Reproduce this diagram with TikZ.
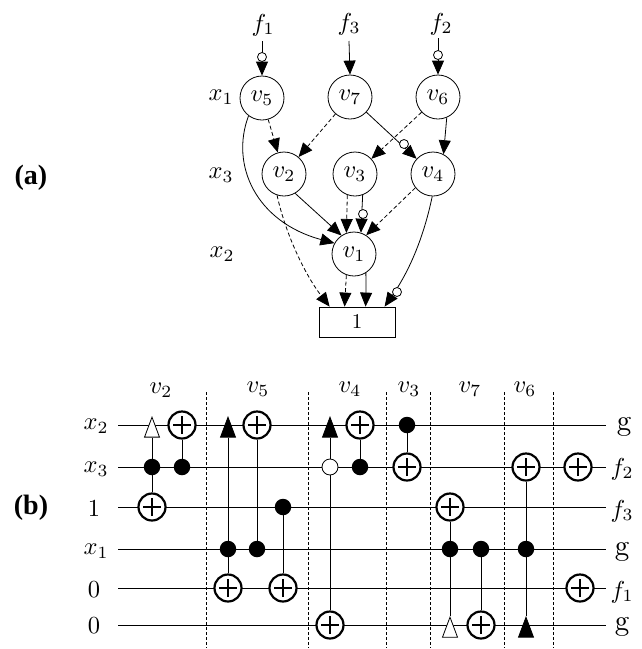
\documentclass[tikz,border=0pt]{standalone}
\usepackage{fontspec}
\usepackage{graphicx}
\newfontfamily\labfont[BoldFont={Liberation Serif Bold}]{Liberation Serif}
\newcommand{\BT}[1]{\scalebox{2.45}{#1}}
\newcommand{\BG}[1]{\scalebox{2.9}{#1}}
\usetikzlibrary{arrows.meta,shapes.geometric,backgrounds,calc}
\tikzset{
  lab/.style={inner sep=0pt},
  bddnode/.style={circle,draw,line width=0.8pt,minimum size=44pt,inner sep=0pt},
  termbox/.style={rectangle,draw,line width=0.8pt,minimum width=76pt,minimum height=30pt,inner sep=0pt},
  inv/.style={circle,draw,fill=white,line width=0.8pt,minimum size=9pt,inner sep=0pt},
  edgesolid/.style={line width=0.8pt,-{Triangle[length=14pt,width=12pt]}},
  edgedash/.style={line width=0.8pt,dash pattern=on 4pt off 2.5pt,-{Triangle[length=14pt,width=12pt]}},
  wire/.style={line width=0.9pt},
  sep/.style={line width=0.7pt,dash pattern=on 3pt off 2pt},
  ctl/.style={line width=0.9pt},
  dotgate/.style={circle,fill=black,minimum size=16.5pt,inner sep=0pt},
  whitedot/.style={circle,draw,fill=white,line width=0.8pt,minimum size=16pt,inner sep=0pt},
  plusgate/.style={circle,draw,fill=white,line width=2.2pt,minimum size=27pt,inner sep=0pt,
    path picture={\draw[line width=2.2pt]
      ([xshift=-9pt]path picture bounding box.center)--([xshift=9pt]path picture bounding box.center)
      ([yshift=-9pt]path picture bounding box.center)--([yshift=9pt]path picture bounding box.center);}},
  tribase/.style={isosceles triangle,isosceles triangle apex angle=41,minimum height=20pt,inner sep=0pt,
    shape border rotate=90,anchor=apex,draw,line width=0.8pt},
  tribk/.style={tribase,fill=black},
  triwh/.style={tribase,fill=white},
  panel/.style={inner sep=0pt,font=\labfont\bfseries\fontsize{28}{32}\selectfont},
}
\begin{document}
\begin{tikzpicture}[x=1pt,y=-1pt]
\useasboundingbox (0,0) rectangle (641,649);
% ---------- panel labels
\node[panel] (pa) at (31,178) {(a)};
\node[panel] (pb) at (31,508) {(b)};
% ---------- part (a)
\node[lab] (f1) at (263,25) {\BT{$f_1$}};
\node[lab] (f3) at (349,24) {\BT{$f_3$}};
\node[lab] (f2) at (441,24) {\BT{$f_2$}};
\node[lab] (lx1) at (221,97) {\BT{$x_1$}};
\node[lab] (lx3) at (221,175) {\BT{$x_3$}};
\node[lab] (lx2) at (222,254) {\BT{$x_2$}};
\node[bddnode] (v5) at (262,98) {\BT{$v_5$}};
\node[bddnode] (v7) at (350,97) {\BT{$v_7$}};
\node[bddnode] (v6) at (438,97) {\BT{$v_6$}};
\node[bddnode] (v2) at (284,174) {\BT{$v_2$}};
\node[bddnode] (v3) at (355,174) {\BT{$v_3$}};
\node[bddnode] (v4) at (433,174) {\BT{$v_4$}};
\node[bddnode] (v1) at (354,254) {\BT{$v_1$}};
\node[termbox] (box) at (357,322) {\scalebox{2.1}{1}};
\coordinate (f1e) at (262,41);
\coordinate (f3e) at (349,41);
\coordinate (f2e) at (438,38);
\draw[edgesolid] (f1e) -- (v5.north);
\draw[edgesolid] (f3e) -- (v7.north);
\draw[edgesolid] (f2e) -- (v6.north);
\draw[edgedash] (v5) -- (v2);
\draw[edgedash] (v7) -- (v2);
\draw[edgesolid] (v7) -- (v4);
\draw[edgedash] (v6) -- (v3);
\draw[edgesolid] (v6.-67) -- (v4.62);
\draw[edgesolid] (v2.-60) -- (v1.124);
\draw[edgedash] (v3.-110) -- (v1.110);
\draw[edgesolid] (v3.-70) -- (v1.72);
\draw[edgedash] (v4.-142) -- (v1.57);
\draw[edgesolid] (v5.-127) .. controls (230,165) and (256,222) .. (v1.151);
\draw[edgedash] (v2.-108) .. controls (286,236) and (306,276) .. ([xshift=11pt]box.north west);
\draw[edgedash] (v1.-110) -- ([xshift=26pt]box.north west);
\draw[edgesolid] (v1.-58) .. controls (366,285) and (366,296) .. ([xshift=47pt]box.north west);
\draw[edgesolid] (v4.-92) .. controls (424,236) and (410,270) .. ([xshift=66pt]box.north west);
\node[inv] (i1) at (262,57) {};
\node[inv] (i2) at (438,55) {};
\node[inv] (i3) at (404,144) {};
\node[inv] (i4) at (363,214) {};
\node[inv] (i5) at (397,292) {};
% ---------- part (b): labels
\foreach \n/\x/\y/\t in {h2/161/390/v_2,h5/258/389/v_5,h4/350/389/v_4,h3/409/389/v_3,h7/470/389/v_7,h6/525/389/v_6}
  \node[lab] (\n) at (\x,\y) {\BT{$\t$}};
\node[lab] (l1) at (96,426) {\BT{$x_2$}};
\node[lab] (l2) at (96,469) {\BT{$x_3$}};
\node[lab] (l3) at (94,508) {\BT{1}};
\node[lab] (l4) at (96,551) {\BT{$x_1$}};
\node[lab] (l5) at (94,590) {\BT{0}};
\node[lab] (l6) at (94,626) {\BT{0}};
\node[lab] (r1) at (624,427) {\BG{g}};
\node[lab] (r2) at (622,469) {\BT{$f_2$}};
\node[lab] (r3) at (622,511) {\BT{$f_3$}};
\node[lab] (r4) at (622,552) {\BG{g}};
\node[lab] (r5) at (622,592) {\BT{$f_1$}};
\node[lab] (r6) at (622,627) {\BG{g}};
% gates
\node[triwh] (a1) at (152,416) {};
\node[dotgate] (a2) at (152,467) {};
\node[plusgate] (a3) at (152,507) {};
\node[plusgate] (b1) at (182,425) {};
\node[dotgate] (b2) at (182,467) {};
\node[tribk] (c1) at (228,416) {};
\node[dotgate] (c2) at (228,549) {};
\node[plusgate] (c3) at (228,588) {};
\node[plusgate] (d1) at (257,425) {};
\node[dotgate] (d2) at (257,549) {};
\node[dotgate] (e1) at (283,507) {};
\node[plusgate] (e2) at (283,588) {};
\node[tribk] (g1) at (330,416) {};
\node[whitedot] (g2) at (330,467) {};
\node[plusgate] (g3) at (330,625) {};
\node[plusgate] (h1) at (360,425) {};
\node[dotgate] (h2x) at (360,467) {};
\node[dotgate] (j1) at (407,425) {};
\node[plusgate] (j2) at (407,467) {};
\node[plusgate] (k1) at (450,507) {};
\node[dotgate] (k2) at (450,549) {};
\node[triwh] (k3) at (450,616) {};
\node[dotgate] (m1) at (481,549) {};
\node[plusgate] (m2) at (481,625) {};
\node[plusgate] (n1) at (526,467) {};
\node[dotgate] (n2) at (526,549) {};
\node[tribk] (n3) at (526,616) {};
\node[plusgate] (o1) at (578,467) {};
\node[plusgate] (o2) at (580,588) {};
\begin{scope}[on background layer]
  \foreach \i/\y in {1/425,2/467,3/507,4/549,5/588,6/625} {
    \coordinate (wl\i) at (118,\y);
    \coordinate (wr\i) at (606,\y);
    \draw[wire] (wl\i) -- (wr\i);
  }
  \foreach \i/\x in {1/206,2/308,3/386,4/430,5/504,6/553} {
    \coordinate (st\i) at (\x,392);
    \coordinate (sb\i) at (\x,648);
    \draw[sep] (st\i) -- (sb\i);
  }
  \draw[ctl] (a1) -- (a2);
  \draw[ctl] (a2) -- (a3);
  \draw[ctl] (b1) -- (b2);
  \draw[ctl] (c1) -- (c2);
  \draw[ctl] (c2) -- (c3);
  \draw[ctl] (d1) -- (d2);
  \draw[ctl] (e1) -- (e2);
  \draw[ctl] (g1) -- (g3);
  \draw[ctl] (h1) -- (h2x);
  \draw[ctl] (j1) -- (j2);
  \draw[ctl] (k1) -- (k2);
  \draw[ctl] (k2) -- (k3);
  \draw[ctl] (m1) -- (m2);
  \draw[ctl] (n1) -- (n2);
  \draw[ctl] (n2) -- (n3);
\end{scope}
\end{tikzpicture}
\end{document}
